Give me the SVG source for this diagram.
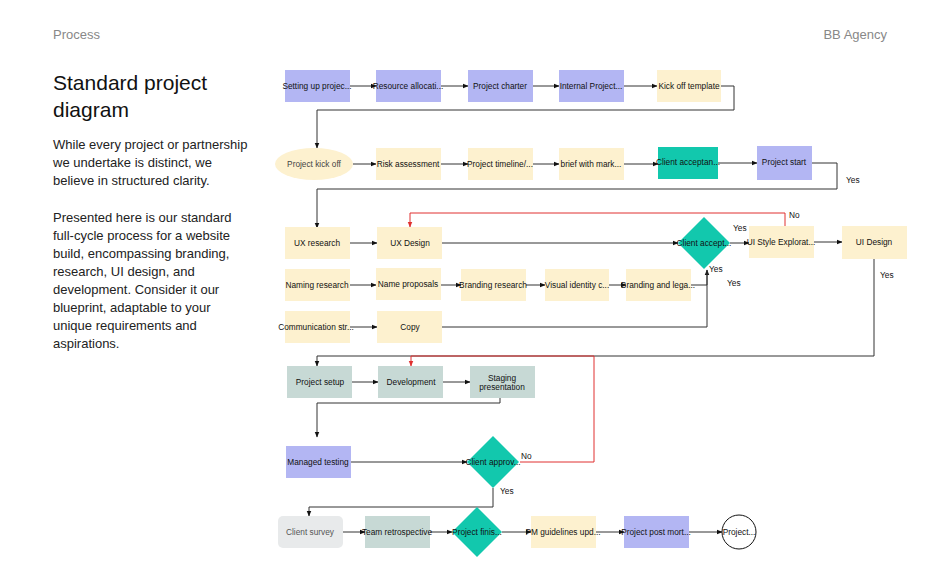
<svg xmlns="http://www.w3.org/2000/svg" width="940" height="587" viewBox="0 0 940 587">
<style>
text{font-family:"Liberation Sans",Arial,sans-serif}
.n{font-size:8.3px;fill:#111;text-anchor:middle;dominant-baseline:central}
.lav{fill:#b3b6f3}.crm{fill:#fdf1cf}.tea{fill:#12c8ad}.gry{fill:#c7d9d5}
.c path{fill:none;stroke:#333;stroke-width:1}
.c path.r{stroke:#e03030}
.lbl{font-size:8.3px;fill:#111}
.p{font-size:13px;fill:#222}
</style>
<defs>
<marker id="a" viewBox="0 0 10 10" refX="9" refY="5" markerWidth="6" markerHeight="6" orient="auto"><path d="M0,1 L10,5 L0,9z" fill="#111"/></marker>
<marker id="ar" viewBox="0 0 10 10" refX="9" refY="5" markerWidth="6" markerHeight="6" orient="auto"><path d="M0,1 L10,5 L0,9z" fill="#e03030"/></marker>
</defs>
<rect width="940" height="587" fill="#fff"/>
<text x="53" y="39" style="font-size:13px;fill:#888">Process</text>
<text x="887" y="39" style="font-size:13px;fill:#888" text-anchor="end">BB Agency</text>
<text x="53" y="90" style="font-size:21px;fill:#111">Standard project</text>
<text x="53" y="117" style="font-size:21px;fill:#111">diagram</text>
<text class="p" x="53" y="149">While every project or partnership</text>
<text class="p" x="53" y="167">we undertake is distinct, we</text>
<text class="p" x="53" y="185">believe in structured clarity.</text>
<text class="p" x="53" y="222">Presented here is our standard</text>
<text class="p" x="53" y="240">full-cycle process for a website</text>
<text class="p" x="53" y="258">build, encompassing branding,</text>
<text class="p" x="53" y="276">research, UI design, and</text>
<text class="p" x="53" y="294">development. Consider it our</text>
<text class="p" x="53" y="312">blueprint, adaptable to your</text>
<text class="p" x="53" y="330">unique requirements and</text>
<text class="p" x="53" y="348">aspirations.</text>

<g class="c" id="connectors">
<path d="M350,86H376" marker-end="url(#a)"/>
<path d="M441,86H468" marker-end="url(#a)"/>
<path d="M533,86H559" marker-end="url(#a)"/>
<path d="M624,86H657" marker-end="url(#a)"/>
<path d="M721,86H734V110H317V148" marker-end="url(#a)"/>
<path d="M353,164H376" marker-end="url(#a)"/>
<path d="M441,164H468" marker-end="url(#a)"/>
<path d="M533,164H559" marker-end="url(#a)"/>
<path d="M624,164H658" marker-end="url(#a)"/>
<path d="M718,163H757" marker-end="url(#a)"/>
<path d="M812,163H837V189H317V228" marker-end="url(#a)"/>
<path d="M350,243H377" marker-end="url(#a)"/>
<path d="M442,243H678" marker-end="url(#a)"/>
<path d="M730,243H749" marker-end="url(#a)"/>
<path d="M814,242H842" marker-end="url(#a)"/>
<path class="r" d="M785,226V213H410V227" marker-end="url(#ar)"/>
<path d="M350,285H376" marker-end="url(#a)"/>
<path d="M441,285H461" marker-end="url(#a)"/>
<path d="M526,285H545" marker-end="url(#a)"/>
<path d="M609,285H626" marker-end="url(#a)"/>
<path d="M691,285H707V270" marker-end="url(#a)"/>
<path d="M350,327H377" marker-end="url(#a)"/>
<path d="M442,327H707V270"/>
<path d="M874,259V356H317V366" marker-end="url(#a)"/>
<path class="r" d="M520,462H594V356H411V366" marker-end="url(#ar)"/>
<path d="M352,382H378" marker-end="url(#a)"/>
<path d="M443,382H470" marker-end="url(#a)"/>
<path d="M500,398V403H317V437" marker-end="url(#a)"/>
<path d="M351,462H467" marker-end="url(#a)"/>
<path d="M493,488V507H309V516" marker-end="url(#a)"/>
<path d="M343,532H365" marker-end="url(#a)"/>
<path d="M430,532H452" marker-end="url(#a)"/>
<path d="M502,532H531" marker-end="url(#a)"/>
<path d="M596,532H624" marker-end="url(#a)"/>
<path d="M689,532H722" marker-end="url(#a)"/>
</g>
<g id="edge-labels">
<text class="lbl" x="846" y="183">Yes</text>
<text class="lbl" x="789" y="218">No</text>
<text class="lbl" x="733" y="231">Yes</text>
<text class="lbl" x="709" y="272">Yes</text>
<text class="lbl" x="727" y="286">Yes</text>
<text class="lbl" x="880" y="278">Yes</text>
<text class="lbl" x="521" y="459">No</text>
<text class="lbl" x="500" y="494">Yes</text>
</g>

<g id="n1"><rect class="lav" x="285" y="70" width="65" height="32"/><text class="n" x="317" y="86">Setting up projec...</text></g>
<g id="n2"><rect class="lav" x="376" y="70" width="65" height="32"/><text class="n" x="408" y="86">Resource allocati...</text></g>
<g id="n3"><rect class="lav" x="468" y="70" width="65" height="32"/><text class="n" x="500" y="86">Project charter</text></g>
<g id="n4"><rect class="lav" x="559" y="70" width="65" height="32"/><text class="n" x="591" y="86">Internal Project...</text></g>
<g id="n5"><rect class="crm" x="657" y="70" width="64" height="32"/><text class="n" x="689" y="86">Kick off template</text></g>
<g id="n6"><ellipse class="crm" cx="314" cy="164" rx="39" ry="16"/><text class="n" x="314" y="164" style="fill:#444">Project kick off</text></g>
<g id="n7"><rect class="crm" x="376" y="148" width="65" height="32"/><text class="n" x="408" y="164">Risk assessment</text></g>
<g id="n8"><rect class="crm" x="468" y="148" width="65" height="32"/><text class="n" x="500" y="164">Project timeline/...</text></g>
<g id="n9"><rect class="crm" x="559" y="148" width="65" height="32"/><text class="n" x="591" y="164">brief with mark...</text></g>
<g id="n10"><rect class="tea" x="658" y="147" width="60" height="32"/><text class="n" x="688" y="162">Client acceptan...</text></g>
<g id="n11"><rect class="lav" x="757" y="146" width="55" height="34"/><text class="n" x="784" y="162">Project start</text></g>
<g id="n12"><rect class="crm" x="285" y="227" width="65" height="32"/><text class="n" x="317" y="243">UX research</text></g>
<g id="n13"><rect class="crm" x="377" y="227" width="65" height="32"/><text class="n" x="410" y="243">UX Design</text></g>
<g id="n14"><path class="tea" d="M704,217L730,243L704,269L678,243z"/><text class="n" x="704" y="243">Client accept...</text></g>
<g id="n15"><rect class="crm" x="749" y="226" width="65" height="32"/><text class="n" x="781" y="242">UI Style Explorat...</text></g>
<g id="n16"><rect class="crm" x="842" y="226" width="65" height="33"/><text class="n" x="874" y="242">UI Design</text></g>
<g id="n17"><rect class="crm" x="285" y="269" width="65" height="32"/><text class="n" x="317" y="285">Naming research</text></g>
<g id="n18"><rect class="crm" x="376" y="268" width="65" height="32"/><text class="n" x="408" y="284">Name proposals</text></g>
<g id="n19"><rect class="crm" x="461" y="269" width="65" height="32"/><text class="n" x="493" y="285">Branding research</text></g>
<g id="n20"><rect class="crm" x="545" y="269" width="64" height="32"/><text class="n" x="577" y="285">Visual identity c...</text></g>
<g id="n21"><rect class="crm" x="626" y="269" width="65" height="32"/><text class="n" x="658" y="285">Branding and lega...</text></g>
<g id="n22"><rect class="crm" x="285" y="311" width="65" height="32"/><text class="n" x="316" y="327">Communication str...</text></g>
<g id="n23"><rect class="crm" x="377" y="311" width="65" height="32"/><text class="n" x="410" y="327">Copy</text></g>
<g id="n24"><rect class="gry" x="287" y="366" width="65" height="32"/><text class="n" x="320" y="382">Project setup</text></g>
<g id="n25"><rect class="gry" x="378" y="366" width="65" height="32"/><text class="n" x="411" y="382">Development</text></g>
<g id="n26"><rect class="gry" x="470" y="366" width="65" height="32"/><text class="n" x="502" y="378">Staging</text><text class="n" x="502" y="387">presentation</text></g>
<g id="n27"><rect class="lav" x="286" y="446" width="65" height="32"/><text class="n" x="318" y="462">Managed testing</text></g>
<g id="n28"><path class="tea" d="M493,436L519,462L493,488L467,462z"/><text class="n" x="493" y="462">Client approv...</text></g>
<g id="n29"><rect x="278" y="516" width="65" height="32" rx="5" fill="#e8eaeb"/><text class="n" x="310" y="532" style="fill:#555">Client survey</text></g>
<g id="n30"><rect class="gry" x="365" y="516" width="65" height="32"/><text class="n" x="397" y="532">Team retrospective</text></g>
<g id="n31"><path class="tea" d="M477,507L502,532L477,557L452,532z"/><text class="n" x="477" y="532">Project finis...</text></g>
<g id="n32"><rect class="crm" x="531" y="516" width="65" height="32"/><text class="n" x="563" y="532">PM guidelines upd...</text></g>
<g id="n33"><rect class="lav" x="624" y="516" width="65" height="32"/><text class="n" x="656" y="532">Project post mort...</text></g>
<g id="n34"><circle cx="739" cy="532" r="17" fill="#fff" stroke="#111"/><text class="n" x="739" y="532">Project...</text></g>
</svg>
